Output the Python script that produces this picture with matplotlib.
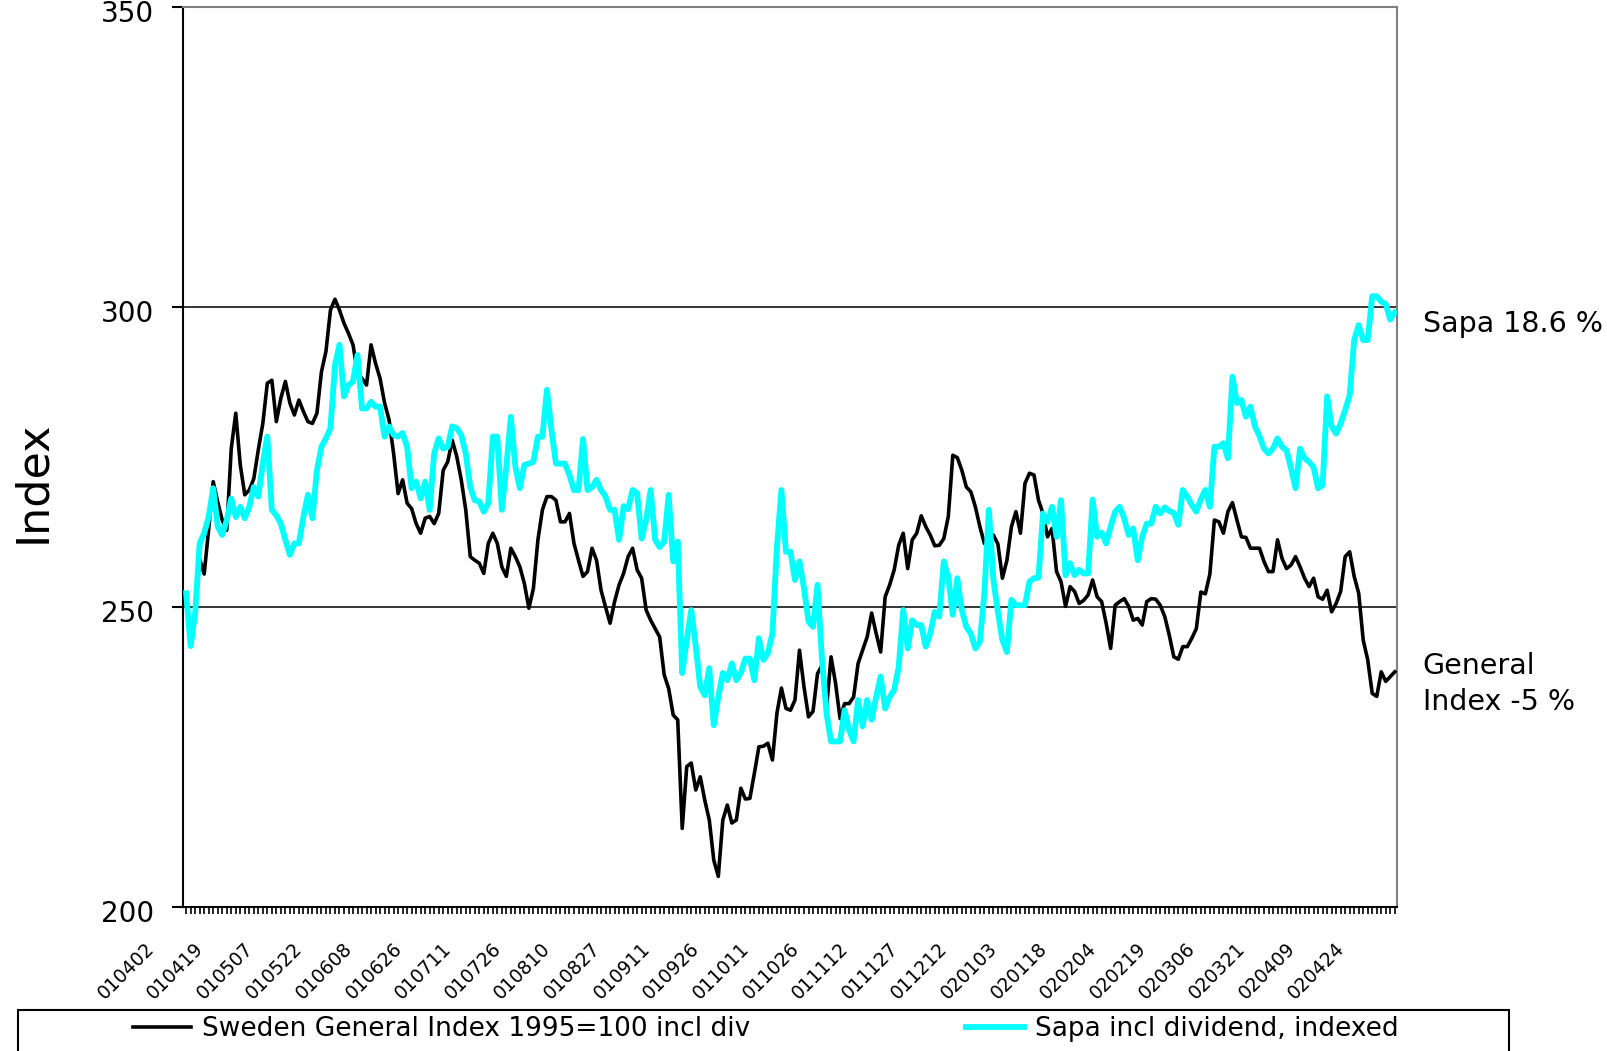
import matplotlib.pyplot as plt
import numpy as np
from matplotlib.transforms import ScaledTranslation

# Index values, one per trading day (2001-04-02 .. 2002-05-02)
general = [
    250.5, 246, 249, 258, 255.5, 263, 270.9, 267.5, 264.5, 262.8,
    276.4, 282.3, 273.7, 268.7, 269.5, 271.4, 276.2, 280.6, 287.3, 287.8,
    280.9, 284.8, 287.6, 284, 282, 284.5, 282.6, 280.9, 280.6, 282.3,
    289.2, 292.6, 299.5, 301.3, 299.5, 297.3, 295.6, 293.7, 289, 288.1,
    287, 293.7, 290.6, 288.1, 284, 281.2, 275.6, 268.9, 271.2, 267.3,
    266.4, 263.9, 262.3, 264.8, 265.1, 263.9, 265.6, 272.8, 274.2, 277.8,
    275.1, 271.2, 266.2, 258.4, 257.8, 257.3, 255.6, 260.6, 262.3, 260.6,
    256.7, 255.1, 259.8, 258.4, 256.7, 253.9, 249.8, 253.1, 261.2, 266.2,
    268.4, 268.4, 267.8, 264.2, 264.2, 265.6, 260.6, 257.8, 255.1, 255.9,
    259.8, 257.8, 252.8, 250, 247.3, 250.9, 253.7, 255.6, 258.4, 259.8,
    256.2, 254.8, 249.5, 247.8, 246.4, 245, 238.7, 236.4, 232, 231.2,
    213.1, 223.4, 224, 219.5, 221.7, 217.8, 214.5, 207.8, 205.1, 214.5,
    217, 214, 214.5, 219.8, 218, 218.1, 222.3, 226.7, 226.8, 227.3,
    224.5, 232.3, 236.5, 233.1, 232.8, 234.5, 242.8, 236.7, 231.7, 232.6,
    238.9, 240.3, 233.1, 241.7, 237.3, 231.4, 233.9, 233.9, 235, 240.6,
    242.8, 245, 249, 245.6, 242.5, 251.7, 253.7, 256.2, 260.3, 262.3,
    256.4, 261.2, 262.3, 265.2, 263.4, 262, 260.2, 260.3, 261.4, 265.1,
    275.3, 274.9, 272.8, 270, 269.2, 266.7, 263.4, 260.6, 262, 262,
    260.5, 254.8, 257.8, 263.4, 265.9, 262.3, 270.6, 272.3, 272, 267.8,
    265.6, 261.7, 263.1, 255.9, 254.2, 250.1, 253.4, 252.6, 250.6, 251.1,
    252, 254.5, 251.7, 250.9, 247.3, 243.1, 250.3, 250.9, 251.4, 250.1,
    247.8, 248.1, 247, 250.9, 251.4, 251.3, 250.3, 248.4, 245.3, 241.7,
    241.3, 243.4, 243.4, 244.8, 246.4, 252.5, 252.2, 255.5, 264.5, 264.2,
    262.3, 265.9, 267.4, 264.5, 261.7, 261.6, 259.8, 259.8, 259.8, 257.6,
    255.9, 255.9, 261.2, 258.1, 256.4, 257, 258.4, 256.7, 254.8, 253.4,
    254.8, 251.7, 251.3, 252.8, 249.2, 250.6, 252.6, 258.4, 259.2, 255.1,
    252.3, 244.5, 241.2, 235.6, 235.1, 239.2, 237.6, 238.4, 239.2,
]

sapa = [
    252.3, 243.5, 249, 260.6, 262.3, 265, 269.8, 263.4, 262, 264.5,
    268.1, 265, 266.7, 264.8, 266.7, 270, 268.4, 274, 278.4, 266.2,
    265.3, 263.9, 261.2, 258.7, 260.6, 260.6, 265, 268.7, 264.8, 272.8,
    276.7, 278.1, 279.8, 290.3, 293.7, 285.1, 287, 287.6, 292, 283.1,
    283.1, 284.2, 283.4, 283.4, 278.4, 280.1, 278.7, 278.4, 279, 276.7,
    269.8, 270.9, 268.1, 270.9, 266.2, 275.6, 278.1, 276.4, 276.7, 280.1,
    279.8, 278.7, 275.6, 270, 267.8, 267.6, 265.9, 267.3, 278.4, 278.4,
    266.2, 273.4, 281.7, 273.4, 269.8, 273.7, 273.9, 274.2, 278.4, 278.4,
    286.2, 279.5, 273.9, 273.9, 273.9, 272, 269.5, 269.5, 278, 269.5,
    270, 271.2, 269.5, 268.4, 266.2, 266.2, 261.2, 266.8, 266.3, 269.5,
    269, 261.4, 264.5, 269.5, 261.2, 260, 260.9, 268.7, 257.6, 260.9,
    239, 244.5, 249.5, 243.4, 236.7, 235.3, 239.8, 230.3, 235, 239,
    237.8, 240.6, 237.8, 239, 241.4, 241.4, 237.8, 244.8, 241.2, 242.3,
    245.6, 260, 269.5, 259.2, 259.2, 254.5, 257.6, 253.1, 247.6, 246.7,
    253.7, 241.2, 232.3, 227.6, 227.6, 227.6, 232.8, 229.5, 227.6, 234.5,
    230.1, 234.5, 231.2, 235, 238.4, 233.1, 235, 236.2, 240, 249.5,
    243.1, 247.8, 247, 247, 243.4, 245.6, 249.2, 248.4, 257.6, 255,
    248.7, 254.8, 249.5, 246.7, 245.6, 243.1, 244.2, 252.3, 266.2, 254.5,
    249.2, 244.5, 242.5, 251.2, 250.3, 250.3, 250.3, 254.2, 254.8, 254.9,
    265.6, 264.2, 266.7, 261.7, 267.8, 255.3, 257.3, 255.3, 256.2, 255.6,
    255.6, 267.9, 261.7, 262.4, 260.6, 263.4, 265.9, 266.7, 264.8, 262,
    263.1, 257.8, 261.7, 263.9, 263.9, 266.7, 265.6, 266.6, 266, 265.7,
    263.7, 269.5, 268.4, 267, 265.9, 268, 269.5, 266.7, 276.7, 276.7,
    277.3, 274.8, 288.4, 284, 284.5, 281.7, 283.4, 280.1, 278.5, 276.4,
    275.6, 276.4, 278.1, 276.7, 276.1, 273.1, 269.8, 276.4, 274.8, 274.2,
    273.3, 269.8, 270.3, 285.1, 280.1, 278.9, 280.6, 282.8, 285.3, 294.5,
    297, 294.5, 294.5, 301.8, 301.8, 300.9, 300.5, 297.9, 299.1,
]

date_labels = ['010402', '010419', '010507', '010522', '010608', '010626',
               '010711', '010726', '010810', '010827', '010911', '010926',
               '011011', '011026', '011112', '011127', '011212', '020103',
               '020118', '020204', '020219', '020306', '020321', '020409',
               '020424']
label_step = 11  # one label every 11 trading days

fig = plt.figure(figsize=(16.08, 10.51), dpi=100)
ax = fig.add_axes([0.1138, 0.1370, 0.7550, 0.8563])

x = np.arange(len(general))
l1, = ax.plot(x, general, color='black', lw=2.6, zorder=3,
              label='Sweden General Index 1995=100 incl div')
l2, = ax.plot(x, sapa, color='#00FFFF', lw=4.2, zorder=4,
              label='Sapa incl dividend, indexed')

for y in (250, 300):
    ax.axhline(y, color='black', lw=1.1, zorder=1)

ax.set_xlim(-0.7, len(general) - 0.5)
ax.set_ylim(200, 350)
ax.set_yticks([200, 250, 300, 350])
ax.tick_params(axis='y', direction='out', length=8, width=1.5, pad=13, labelsize=20)
down = ScaledTranslation(0, -4 / 100, fig.dpi_scale_trans)
for lab in ax.get_yticklabels():
    lab.set_transform(lab.get_transform() + down)

ax.set_xticks(x, minor=True)
ax.set_xticks(np.arange(len(date_labels)) * label_step, date_labels)
ax.tick_params(axis='x', which='both', direction='out', length=5, width=1.2)
ax.tick_params(axis='x', which='major', pad=18, labelsize=13.5, labelrotation=45)
shift = ScaledTranslation(-42 / 100, 0, fig.dpi_scale_trans)
for lab in ax.get_xticklabels():
    lab.set_ha('right')
    lab.set_rotation_mode('anchor')
    lab.set_family(['Liberation Sans Narrow', 'DejaVu Sans'])
    lab.set_transform(lab.get_transform() + shift)

for side in ('top', 'right'):
    ax.spines[side].set_color('#808080')
    ax.spines[side].set_linewidth(1.5)
for side in ('left', 'bottom'):
    ax.spines[side].set_linewidth(1.5)

ax.set_ylabel('Index', fontsize=32)
ax.yaxis.set_label_coords(-0.106, 0.472)

trans = ax.get_yaxis_transform()
ax.text(1.021, 297.2, 'Sapa 18.6 %', transform=trans, fontsize=20.5,
        va='center', ha='left')
ax.text(1.021, 237.1, 'General\nIndex -5 %', transform=trans, fontsize=20.5,
        va='center', ha='left', linespacing=1.37)

fig.legend(handles=[l1, l2], loc='center left',
           bbox_to_anchor=(133 / 1608, 1 - 1029 / 1051), ncol=2, frameon=False,
           fontsize=19, handlelength=2.2, handletextpad=0.4, columnspacing=8.2,
           borderpad=0, borderaxespad=0)
fig.add_artist(plt.Rectangle((18.5 / 1608, 1 - 1062 / 1051), 1491 / 1608, 52 / 1051,
                             transform=fig.transFigure, fill=False,
                             edgecolor='black', lw=1.5))

fig.savefig('out.png', dpi=100)
